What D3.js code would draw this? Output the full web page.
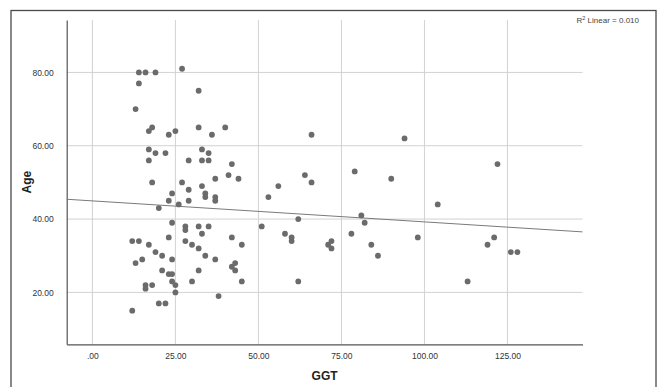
<!DOCTYPE html>
<html>
<head>
<meta charset="utf-8">
<script src="https://cdn.jsdelivr.net/npm/d3@7"></script>
<style>
    body { margin: 0; background: #fff; }
    #chart { width: 660px; height: 387px; }
    .axis text { font-family: "Liberation Sans", Arial, sans-serif; font-size: 8.5px; fill: #333; }
    .axis path { stroke: #555; }
    .title { font-family: "Liberation Sans", Arial, sans-serif; font-weight: bold; font-size: 12px; fill: #222; }
</style>
</head>
<body>
<div id="chart"></div>
<script>
// GGT values (x) and Age values (y)
let ggt = [14, 16, 19, 27, 14, 13, 32, 18, 17, 23, 25, 32, 36, 40, 17, 19, 22, 17, 29, 33,
    35, 33, 35, 42, 18, 27, 37, 41, 44, 33, 29, 24, 23, 26, 20, 29, 34, 34, 37, 37,
    24, 28, 28, 32, 35, 33, 23, 28, 30, 32, 42, 45, 12, 14, 17, 19, 21, 15, 13, 24,
    34, 37, 21, 23, 24, 24, 25, 30, 32, 42, 43, 43, 45, 25, 20, 22, 12, 38, 16, 16,
    18, 51, 66, 94, 64, 66, 56, 53, 79, 90, 104, 62, 58, 60, 60, 71, 72, 72, 81, 82,
    78, 84, 86, 98, 62, 122, 121, 119, 126, 128, 113];
let age = [80, 80, 80, 81, 77, 70, 75, 65, 64, 63, 64, 65, 63, 65, 59, 58, 58, 56, 56, 59,
    58, 56, 56, 55, 50, 50, 51, 52, 51, 49, 48, 47, 45, 44, 43, 45, 47, 46, 46, 45,
    39, 38, 37, 38, 38, 36, 35, 34, 33, 32, 35, 33, 34, 34, 33, 31, 30, 29, 28, 29,
    30, 29, 26, 25, 25, 23, 22, 23, 26, 27, 28, 26, 23, 20, 17, 17, 15, 19, 22, 21,
    22, 38, 63, 62, 52, 50, 49, 46, 53, 51, 44, 40, 36, 35, 34, 33, 34, 32, 41, 39,
    36, 33, 30, 35, 23, 55, 35, 33, 31, 31, 23];

let xTicks = [0, 25, 50, 75, 100, 125];
let xTickLabels = [".00", "25.00", "50.00", "75.00", "100.00", "125.00"];
let yTicks = [20, 40, 60, 80];
let yTickLabels = ["20.00", "40.00", "60.00", "80.00"];

// linear fit line
let fitIntercept = 44.96;
let fitSlope = -0.0573;
let rSquared = "0.010";

let data = ggt.map((g, i) => ({GGT: g, Age: age[i]}));

let margin = {top: 20, right: 77.5, bottom: 42.7, left: 66.7};
let width = 660 - margin.left - margin.right;
let height = 387 - margin.top - margin.bottom;

let root = d3.select("#chart").append("svg")
    .attr("width", 660)
    .attr("height", 387);

// outer frame
root.append("rect")
    .attr("x", 11).attr("y", 10.5)
    .attr("width", 645).attr("height", 400)
    .attr("fill", "none")
    .attr("stroke", "#4a4a4a")
    .attr("stroke-width", 1.3);

root.append("text")
    .attr("x", 639).attr("y", 23)
    .attr("text-anchor", "end")
    .style("font-family", "Liberation Sans, Arial, sans-serif")
    .style("font-size", "8px")
    .style("fill", "#444")
    .call(t => {
        t.append("tspan").text("R");
        t.append("tspan").attr("dy", -3).style("font-size", "5.5px").text("2");
        t.append("tspan").attr("dy", 3).text(" Linear = " + rSquared);
    });

let svg = root.append("g")
    .attr("transform", "translate(" + margin.left + "," + margin.top + ")");

let x = d3.scaleLinear()
    .domain([-7.74, 147.6])
    .range([0, width]);

let y = d3.scaleLinear()
    .domain([5.84, 94.3])
    .range([height, 0]);

// gridlines
svg.append("g").selectAll("line.vgrid")
    .data(xTicks)
    .enter().append("line")
    .attr("x1", d => x(d)).attr("x2", d => x(d))
    .attr("y1", 0).attr("y2", height)
    .attr("stroke", "#d2d2d2")
    .attr("stroke-width", 1);

svg.append("g").selectAll("line.hgrid")
    .data(yTicks)
    .enter().append("line")
    .attr("x1", 0).attr("x2", width)
    .attr("y1", d => y(d)).attr("y2", d => y(d))
    .attr("stroke", "#d2d2d2")
    .attr("stroke-width", 1);

// axes
let xAxis = d3.axisBottom(x)
    .tickValues(xTicks)
    .tickSize(0)
    .tickSizeOuter(0)
    .tickPadding(9)
    .tickFormat((d, i) => xTickLabels[i]);

let yAxis = d3.axisLeft(y)
    .tickValues(yTicks)
    .tickSize(0)
    .tickSizeOuter(0)
    .tickPadding(13)
    .tickFormat((d, i) => yTickLabels[i]);

svg.append("g")
    .attr("class", "x-axis axis")
    .attr("transform", "translate(0," + height + ")")
    .call(xAxis);

svg.append("g")
    .attr("class", "y-axis axis")
    .call(yAxis);

svg.selectAll(".axis .domain").attr("stroke", "#555").attr("stroke-width", 1.2);

// fit line
let xd = x.domain();
svg.append("line")
    .attr("x1", x(xd[0])).attr("y1", y(fitIntercept + fitSlope * xd[0]))
    .attr("x2", x(xd[1])).attr("y2", y(fitIntercept + fitSlope * xd[1]))
    .attr("stroke", "#7a7a7a")
    .attr("stroke-width", 1);

// points
svg.selectAll("circle")
    .data(data)
    .enter().append("circle")
    .attr("cx", d => x(d.GGT))
    .attr("cy", d => y(d.Age))
    .attr("r", 2.9)
    .attr("fill", "#6b6b6b");

// axis titles
svg.append("text")
    .attr("class", "title")
    .attr("x", width / 2)
    .attr("y", height + 36)
    .attr("text-anchor", "middle")
    .text("GGT");

svg.append("text")
    .attr("class", "title")
    .attr("transform", "translate(" + (-36) + "," + (height / 2) + ") rotate(-90)")
    .attr("text-anchor", "middle")
    .text("Age");
</script>
</body>
</html>
